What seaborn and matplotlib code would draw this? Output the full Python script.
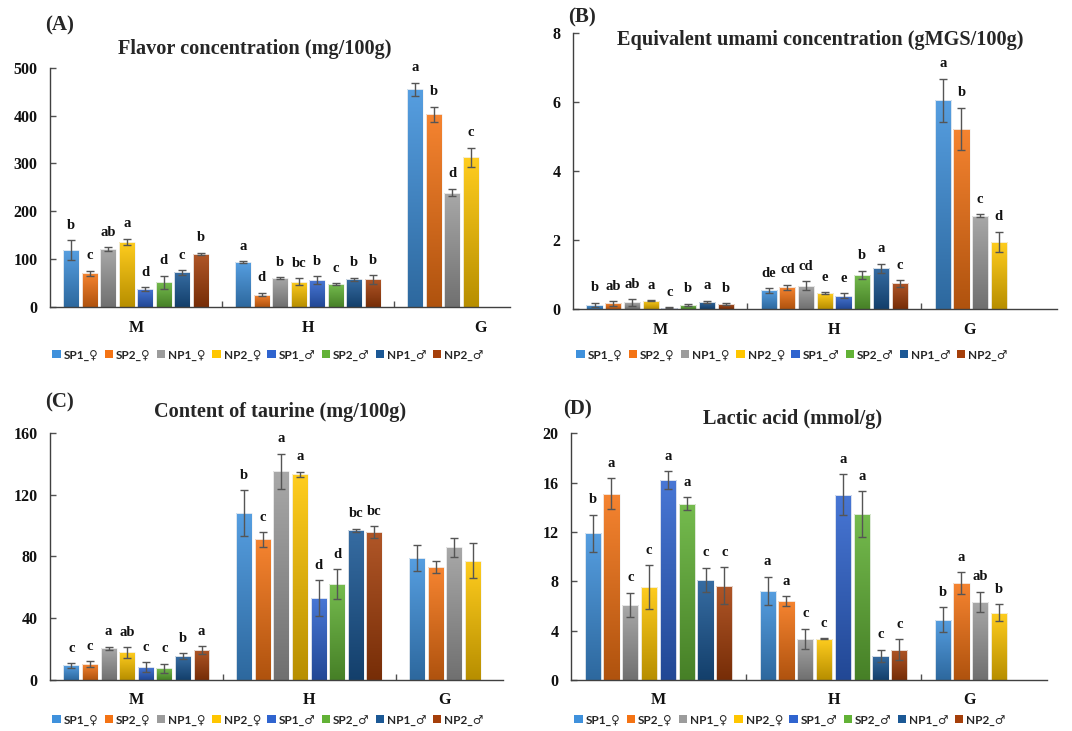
import numpy as np
import pandas as pd
import matplotlib
matplotlib.use("Agg")
import matplotlib.pyplot as plt
import matplotlib.colors as mcolors
from matplotlib.patches import Patch
from matplotlib.container import BarContainer
import seaborn as sns

# ---------------- data ----------------
categories = ["M", "H", "G"]
groups = ["SP1_♀", "SP2_♀", "NP1_♀", "NP2_♀", "SP1_♂", "SP2_♂", "NP1_♂", "NP2_♂"]

# (A) Flavor concentration (mg/100g)  rows: M, H, G
flavor_mean = [[119, 70, 120.5, 136.5, 38, 51.5, 72.4, 110.7],
               [94, 26, 61, 53, 56.4, 48, 58, 58],
               [455, 402.5, 239, 313]]
flavor_sd = [[21, 6, 4, 6, 4, 14, 5, 2.5],
             [2, 4, 2, 7, 8, 2, 3, 9],
             [14, 16, 8, 20]]
flavor_sig = [["b", "c", "ab", "a", "d", "d", "c", "b"],
              ["a", "d", "b", "bc", "b", "c", "b", "b"],
              ["a", "b", "d", "c"]]

# (B) Equivalent umami concentration (gMGS/100g)
umami_mean = [[0.125, 0.16, 0.19, 0.24, 0.04, 0.115, 0.21, 0.145],
              [0.54, 0.63, 0.68, 0.46, 0.39, 0.99, 1.18, 0.74],
              [6.05, 5.22, 2.71, 1.94]]
umami_sd = [[0.06, 0.07, 0.1, 0.02, 0.01, 0.04, 0.03, 0.015],
            [0.07, 0.08, 0.13, 0.03, 0.07, 0.12, 0.13, 0.09],
            [0.63, 0.62, 0.04, 0.3]]
umami_sig = [["b", "ab", "ab", "a", "c", "b", "a", "b"],
             ["de", "cd", "cd", "e", "e", "b", "a", "c"],
             ["a", "b", "c", "d"]]

# (C) Content of taurine (mg/100g)
taurine_mean = [[9.5, 10.1, 20.5, 17.9, 8.4, 7.5, 15.5, 19.6],
                [108, 91, 135, 133, 53, 62, 96.8, 95.7],
                [78.7, 73, 85.8, 77.2]]
taurine_sd = [[1.5, 2, 1, 3.5, 3, 3, 2, 2.5],
              [15, 4.7, 11.5, 1.8, 11.8, 9.7, 1.2, 3.7],
              [8.5, 4, 6, 11.5]]
taurine_sig = [["c", "c", "a", "ab", "c", "c", "b", "a"],
               ["b", "c", "a", "a", "d", "d", "bc", "bc"],
               ["", "", "", ""]]

# (D) Lactic acid (mmol/g)
lactic_mean = [[11.9, 15.1, 6.08, 7.54, 16.2, 14.3, 8.1, 7.65],
               [7.24, 6.4, 3.35, 3.35, 15.0, 13.46, 1.95, 2.46],
               [4.9, 7.86, 6.35, 5.46]]
lactic_sd = [[1.5, 1.25, 1.0, 1.75, 0.75, 0.5, 1.0, 1.5],
             [1.15, 0.37, 0.8, 0.05, 1.66, 1.86, 0.5, 0.85],
             [1.0, 0.9, 0.8, 0.68]]
lactic_sig = [["b", "a", "c", "c", "a", "a", "c", "c"],
              ["a", "a", "c", "c", "a", "a", "c", "c"],
              ["b", "a", "ab", "b"]]

panel_labels = ["(A)", "(B)", "(C)", "(D)"]
titles = ["Flavor concentration (mg/100g)",
          "Equivalent umami concentration (gMGS/100g)",
          "Content of taurine (mg/100g)",
          "Lactic acid (mmol/g)"]
yticks_list = [[0, 100, 200, 300, 400, 500], [0, 2, 4, 6, 8],
               [0, 40, 80, 120, 160], [0, 4, 8, 12, 16, 20]]

colors = ["#3F91DC", "#F47314", "#9C9C9C", "#FFC600",
          "#2F64CF", "#62B236", "#1B5895", "#A53F0A"]

# ---------------- style ----------------
SERIF = "Liberation Serif"
sns.set_theme(style="white")
plt.rcParams["font.family"] = [SERIF, "DejaVu Sans"]

W, H = 1072, 731
fig = plt.figure(figsize=(W / 100, H / 100), dpi=100)


def px_axes(left, right, top, bottom):
    return fig.add_axes([left / W, 1 - bottom / H, (right - left) / W, (bottom - top) / H])


axes_px = [(50, 510, 67.7, 307), (573, 1057, 33, 309),
           (50, 503, 432.7, 680), (571, 1047, 433.3, 680)]
xlims = [(-0.5, 2.174), (-0.5, 2.28), (-0.5, 2.12), (-0.5, 2.22)]
g_label_pos = [2.0, 1.78, 1.78, 1.78]
letter_pos = [(60, 25), (582, 17), (60, 402), (578, 409)]
title_pos = [(255, 49), (820, 40), (280, 412), (793, 419)]
legend_pos = [(268, 355), (792, 355), (268, 720), (790, 720)]

datasets = [(flavor_mean, flavor_sd, flavor_sig),
            (umami_mean, umami_sd, umami_sig),
            (taurine_mean, taurine_sd, taurine_sig),
            (lactic_mean, lactic_sd, lactic_sig)]


def shade(c, f):
    r, g, b = mcolors.to_rgb(c)
    if f >= 0:
        return (r + (1 - r) * f, g + (1 - g) * f, b + (1 - b) * f)
    f = -f
    return (r * (1 - f), g * (1 - f), b * (1 - f))


for p, (means, sds, sigs) in enumerate(datasets):
    ax = px_axes(*axes_px[p])
    rows = []
    for ci, cat in enumerate(categories):
        for gi, v in enumerate(means[ci]):
            rows.append({"cat": cat, "grp": groups[gi], "val": v})
    df = pd.DataFrame(rows)
    sns.barplot(data=df, x="cat", y="val", hue="grp", order=categories,
                hue_order=groups, palette=colors, width=0.86, gap=0.14,
                dodge=True, errorbar=None, legend=False, ax=ax,
                edgecolor="#F4F4F4", linewidth=0.6, zorder=2)
    ymax = yticks_list[p][-1]
    bar_conts = [c for c in ax.containers if isinstance(c, BarContainer)]
    for gi, cont in enumerate(bar_conts):
        for patch in list(cont.patches):
            x0 = patch.get_x()
            w = patch.get_width()
            h = patch.get_height()
            xc = x0 + w / 2
            ci = int(round(xc))
            sd = sds[ci][gi]
            base = colors[gi]
            top_c = np.array(shade(base, 0.12))
            bot_c = np.array(shade(base, -0.28))
            t = np.linspace(0, 1, 64)[:, None]
            grad = (top_c[None, :] * (1 - t) + bot_c[None, :] * t)[:, None, :]
            im = ax.imshow(grad, extent=[x0, x0 + w, 0, h], aspect="auto",
                           origin="upper", zorder=1.5, interpolation="bilinear")
            im.set_clip_path(patch)
            patch.set_facecolor("none")
            ax.errorbar(xc, h, yerr=sd, fmt="none", ecolor="#555555",
                        elinewidth=1.0, capsize=2.6, capthick=1.0, zorder=3)
            lab = sigs[ci][gi]
            if lab:
                ax.annotate(lab, (xc, h + sd), xytext=(0, 6),
                            textcoords="offset points", ha="center", va="bottom",
                            fontsize=10.5, fontweight="bold", family=SERIF,
                            color="#111111")
    ax.set_xlim(*xlims[p])
    ax.set_ylim(0, ymax)
    ax.set_yticks(yticks_list[p])
    ax.set_yticklabels([str(v) for v in yticks_list[p]], fontsize=11.5,
                       fontweight="bold", family=SERIF)
    ax.set_xticks([0, 1, g_label_pos[p]])
    ax.set_xticklabels(categories, fontsize=11.5, fontweight="bold", family=SERIF)
    ax.set_xticks([0.5, 1.5], minor=True)
    ax.tick_params(axis="x", which="major", length=0, pad=9, colors="#111111")
    ax.tick_params(axis="x", which="minor", direction="in", length=4,
                   width=1, color="#505050", bottom=True)
    ax.tick_params(axis="y", which="major", direction="in", length=4, width=1,
                   color="#505050", pad=9, left=True, colors="#111111")
    ax.set_xlabel("")
    ax.set_ylabel("")
    for s in ["top", "right"]:
        ax.spines[s].set_visible(False)
    for s in ["left", "bottom"]:
        ax.spines[s].set_color("#404040")
        ax.spines[s].set_linewidth(1.0)
    ax.grid(False)
    ax.set_facecolor("none")

    fig.text(letter_pos[p][0] / W, 1 - letter_pos[p][1] / H, panel_labels[p],
             ha="center", va="center", fontsize=15, fontweight="bold", family=SERIF)
    fig.text(title_pos[p][0] / W, 1 - title_pos[p][1] / H, titles[p],
             ha="center", va="center", fontsize=14.6, fontweight="bold", family=SERIF)

    handles = [Patch(facecolor=c, edgecolor="none", label=g) for c, g in zip(colors, groups)]
    fig.legend(handles=handles, loc="center",
               bbox_to_anchor=(legend_pos[p][0] / W, 1 - legend_pos[p][1] / H),
               ncol=8, frameon=False, handlelength=0.7, handleheight=0.7,
               handletextpad=0.25, columnspacing=0.55, borderpad=0.2,
               prop={"family": ["Lato", "DejaVu Sans"], "size": 8.5, "weight": "bold"})

fig.savefig("out.png", dpi=100)
